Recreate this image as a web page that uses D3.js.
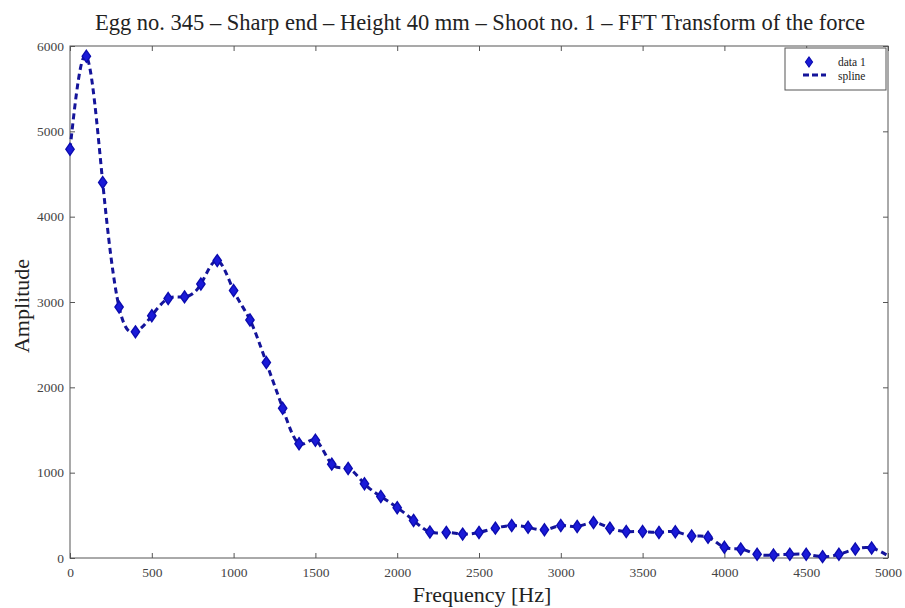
<!DOCTYPE html>
<html>
<head>
<meta charset="utf-8">
<script src="https://cdn.jsdelivr.net/npm/d3@7"></script>
<style>
  body { margin: 0; background: #fff; }
  text { font-family: "Liberation Serif", "Times New Roman", serif; }
</style>
</head>
<body>
<script>
// FFT amplitude, one value every 100 Hz
const freqs = d3.range(0, 5001, 100);
const amplitude = [
  4790, 5880, 4400, 2940, 2650, 2840, 3040, 3060, 3210, 3485,
  3135, 2790, 2290, 1755, 1340, 1380, 1100, 1050, 870, 720,
  590, 440, 305, 300, 280, 300, 350, 380, 360, 330,
  380, 370, 415, 350, 310, 310, 300, 308, 258, 243,
  125, 105, 43, 35, 43, 43, 16, 43, 105, 117, 25
];
const xTicks = [0, 500, 1000, 1500, 2000, 2500, 3000, 3500, 4000, 4500, 5000];
const yTicks = [0, 1000, 2000, 3000, 4000, 5000, 6000];

const W = 905, H = 608;
const m = { left: 70, right: 17, top: 46, bottom: 50 };
const iw = W - m.left - m.right, ih = H - m.top - m.bottom;

const svg = d3.select("body").append("svg")
  .attr("width", W).attr("height", H);

const x = d3.scaleLinear().domain([0, 5000]).range([m.left, m.left + iw]);
const y = d3.scaleLinear().domain([0, 6000]).range([m.top + ih, m.top]);

const data = freqs.map((f, i) => [f, amplitude[i]]);

// axes with inward ticks, MATLAB style
const tk = 5;
const fmt = d3.format("d");
const axStyle = g => {
  g.select(".domain").remove();
  g.selectAll(".tick line").attr("stroke", "#555");
  g.selectAll(".tick text").attr("fill", "#444").style("font-size", "13.5px");
};
svg.append("g").attr("transform", `translate(0,${m.top + ih})`)
  .call(d3.axisBottom(x).tickValues(xTicks).tickFormat(fmt).tickSizeInner(-tk).tickSizeOuter(0).tickPadding(9))
  .call(axStyle);
svg.append("g").attr("transform", `translate(0,${m.top})`)
  .call(d3.axisTop(x).tickValues(xTicks).tickFormat("").tickSizeInner(-tk).tickSizeOuter(0))
  .call(axStyle);
svg.append("g").attr("transform", `translate(${m.left},0)`)
  .call(d3.axisLeft(y).tickValues(yTicks).tickFormat(fmt).tickSizeInner(-tk).tickSizeOuter(0).tickPadding(6))
  .call(axStyle);
svg.append("g").attr("transform", `translate(${m.left + iw},0)`)
  .call(d3.axisRight(y).tickValues(yTicks).tickFormat("").tickSizeInner(-tk).tickSizeOuter(0))
  .call(axStyle);

svg.append("rect")
  .attr("x", m.left).attr("y", m.top).attr("width", iw).attr("height", ih)
  .attr("fill", "none").attr("stroke", "#555").attr("stroke-width", 1);

// spline through the samples
const line = d3.line().x(d => x(d[0])).y(d => y(d[1])).curve(d3.curveNatural);
svg.append("path").datum(data)
  .attr("d", line)
  .attr("fill", "none")
  .attr("stroke", "#14149a")
  .attr("stroke-width", 3)
  .attr("stroke-dasharray", "6,4");

// diamonds
const diamond = d3.symbol().type(d3.symbolDiamond).size(42);
svg.append("g").selectAll("path")
  .data(data.slice(0, data.length - 1))
  .join("path")
  .attr("d", diamond)
  .attr("transform", d => `translate(${x(d[0])},${y(d[1])}) scale(1.2,1)`)
  .attr("fill", "#1a1ad8")
  .attr("stroke", "#0c0cb0")
  .attr("stroke-width", 1.2);

// legend
const lg = svg.append("g").attr("transform", "translate(785,48)");
lg.append("rect").attr("width", 101).attr("height", 42)
  .attr("fill", "#fff").attr("stroke", "#555");
lg.append("path").attr("d", d3.symbol().type(d3.symbolDiamond).size(30))
  .attr("transform", "translate(24,14) scale(1.2,1)")
  .attr("fill", "#1a1ad8").attr("stroke", "#0c0cb0");
lg.append("line").attr("x1", 18).attr("x2", 41).attr("y1", 27).attr("y2", 27)
  .attr("stroke", "#14149a").attr("stroke-width", 3).attr("stroke-dasharray", "6,3");
lg.append("text").attr("x", 53).attr("y", 17.5).text("data 1")
  .style("font-size", "11.5px").attr("fill", "#222");
lg.append("text").attr("x", 53).attr("y", 31.5).text("spline")
  .style("font-size", "11.5px").attr("fill", "#222");

// titles
svg.append("text").attr("x", 480).attr("y", 30).attr("text-anchor", "middle")
  .style("font-size", "22.5px").attr("fill", "#222")
  .text("Egg no. 345 – Sharp end – Height 40 mm – Shoot no. 1 – FFT Transform of the force");
svg.append("text").attr("x", 482).attr("y", 602).attr("text-anchor", "middle")
  .style("font-size", "22px").attr("fill", "#222")
  .text("Frequency [Hz]");
svg.append("text").attr("transform", "translate(29,306) rotate(-90)").attr("text-anchor", "middle")
  .style("font-size", "22px").attr("fill", "#222")
  .text("Amplitude");
</script>
</body>
</html>
